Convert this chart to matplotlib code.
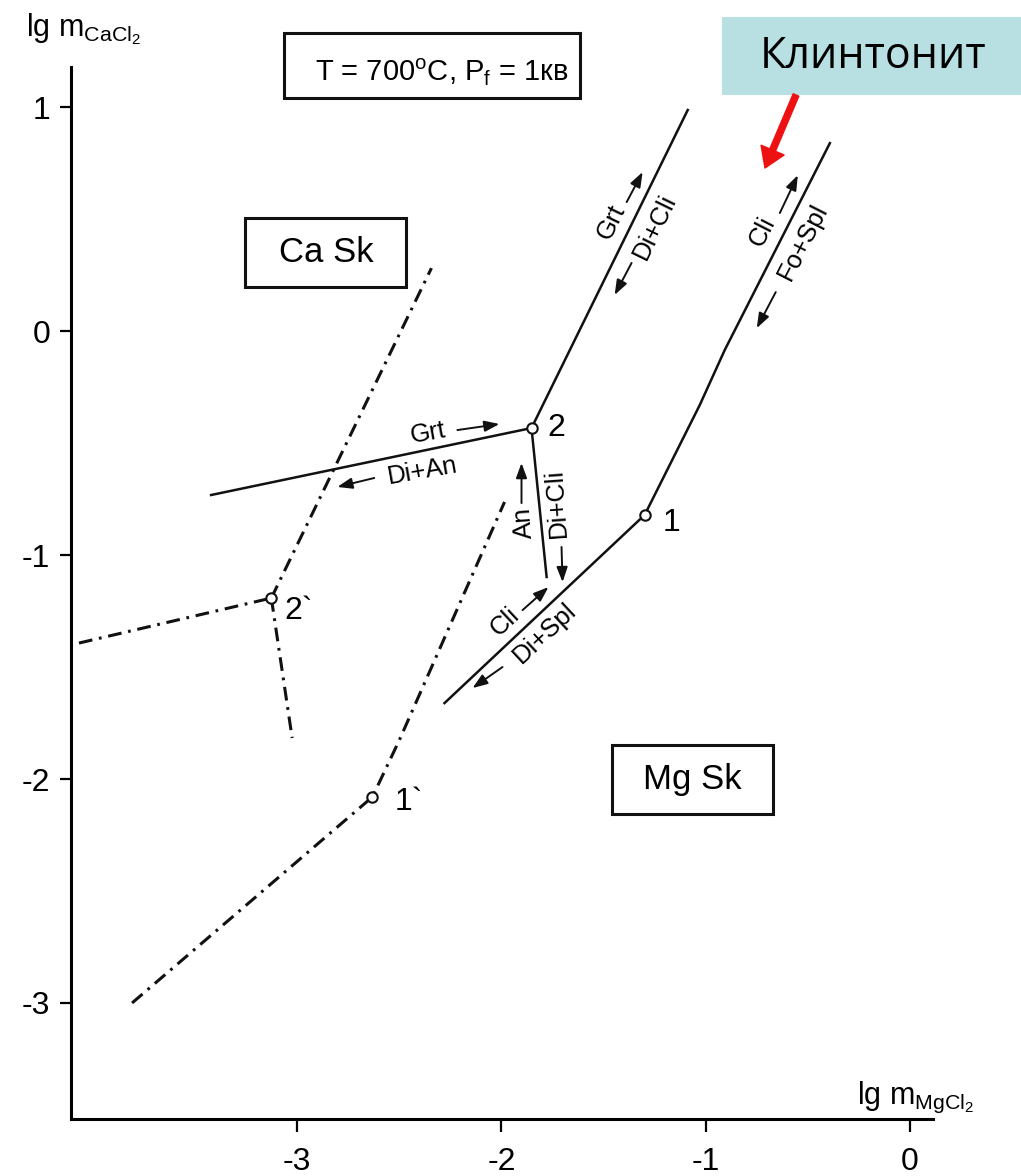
import matplotlib
matplotlib.use('Agg')
import matplotlib.pyplot as plt
from matplotlib import font_manager
from matplotlib.patches import Rectangle, FancyArrowPatch

names = {f.name for f in font_manager.fontManager.ttflist}
FONT = 'Liberation Sans Narrow' if 'Liberation Sans Narrow' in names else 'Liberation Sans'
plt.rcParams['font.family'] = [FONT, 'DejaVu Sans']
plt.rcParams['mathtext.fontset'] = 'custom'
plt.rcParams['mathtext.rm'] = FONT
plt.rcParams['mathtext.it'] = FONT
plt.rcParams['mathtext.default'] = 'rm'
plt.rcParams['axes.unicode_minus'] = False

# stable reaction lines, x = lg m(MgCl2), y = lg m(CaCl2)
grt_dicli_x = [-1.853, -1.088]
grt_dicli_y = [-0.433, 0.987]
grt_dian_x = [-3.422, -1.853]
grt_dian_y = [-0.732, -0.433]
an_dicli_x = [-1.853, -1.779]
an_dicli_y = [-0.433, -1.098]
cli_displ_x = [-2.279, -1.299]
cli_displ_y = [-1.661, -0.821]
cli_fospl_x = [-1.299, -1.029, -0.907, -0.392]
cli_fospl_y = [-0.821, -0.330, -0.085, 0.839]

# metastable (dash-dot) lines
meta_a_x = [-3.127, -2.343]
meta_a_y = [-1.192, 0.281]
meta_b_x = [-4.069, -3.127]
meta_b_y = [-1.393, -1.192]
meta_c_x = [-3.127, -3.025]
meta_c_y = [-1.192, -1.817]
meta_d_x = [-3.809, -2.632, -2.5, -1.985]
meta_d_y = [-3.0, -2.080, -1.826, -0.763]

# invariant points
inv_x = [-1.853, -1.299, -3.127, -2.632]
inv_y = [-0.433, -0.821, -1.192, -2.080]
inv_names = ['2', '1', '2`', '1`']
inv_offsets = [(18, 0), (19, -6), (20, -9), (26, -4)]

xticks = [-3, -2, -1, 0]
yticks = [1, 0, -1, -2, -3]

# phase labels along lines: text, x, y, angle
phase_labels = [
    ('Grt', -2.358, -0.455, 10), ('Di+An', -2.387, -0.625, 10),
    ('Grt', -1.461, 0.487, 64), ('Di+Cli', -1.250, 0.464, 64),
    ('Cli', -0.721, 0.446, 63), ('Fo+Spl', -0.525, 0.397, 63),
    ('An', -1.892, -0.857, 94), ('Di+Cli', -1.730, -0.768, 94),
    ('Cli', -1.985, -1.299, 43), ('Di+Spl', -1.789, -1.348, 43),
]
# small arrows: tail x, tail y, tip x, tip y
phase_arrows = [
    (-2.216, -0.442, -2.010, -0.415), (-2.623, -0.656, -2.804, -0.696),
    (-1.387, 0.576, -1.309, 0.710), (-1.363, 0.304, -1.446, 0.161),
    (-0.637, 0.527, -0.549, 0.696), (-0.657, 0.174, -0.750, 0.013),
    (-1.902, -0.768, -1.902, -0.589), (-1.706, -0.964, -1.701, -1.121),
    (-1.897, -1.246, -1.770, -1.143), (-1.995, -1.500, -2.142, -1.594),
]

W, H = 1021, 1176
fig = plt.figure(figsize=(W / 100, H / 100), dpi=100)
ax = fig.add_axes([71 / W, 1 - 1119 / H, (933 - 71) / W, (1119 - 67) / H])
ax.set_xlim(-4.108, 0.113)
ax.set_ylim(-3.518, 1.179)
for s in ['top', 'right']:
    ax.spines[s].set_visible(False)
for s in ['left', 'bottom']:
    ax.spines[s].set_linewidth(2.2)
ax.set_xticks(xticks)
ax.set_yticks(yticks)
ax.set_xticklabels([str(t) for t in xticks])
ax.set_yticklabels([str(t) for t in yticks])
ax.tick_params(axis='x', direction='out', length=9.5, width=1.6, pad=11, labelsize=23)
ax.tick_params(axis='y', direction='out', length=8, width=1.6, pad=7, labelsize=23)

solid = dict(color='#111111', lw=1.8)
for xs, ys in [(grt_dicli_x, grt_dicli_y), (grt_dian_x, grt_dian_y),
               (an_dicli_x, an_dicli_y), (cli_displ_x, cli_displ_y),
               (cli_fospl_x, cli_fospl_y)]:
    ax.plot(xs, ys, **solid)

dd = dict(color='#111111', lw=2.2, linestyle=(0, (4.5, 2.2, 0.9, 2.2)))
for xs, ys in [(meta_a_x, meta_a_y), (meta_b_x, meta_b_y),
               (meta_c_x, meta_c_y), (meta_d_x, meta_d_y)]:
    ax.plot(xs, ys, **dd)

ax.plot(inv_x, inv_y, 'o', ms=7.5, mfc='white', mec='#111111', mew=1.5, zorder=5)
for x, y, n, off in zip(inv_x, inv_y, inv_names, inv_offsets):
    ax.annotate(n, (x, y), xytext=off, textcoords='offset points',
                ha='center', va='center', fontsize=23)

for s, x, y, a in phase_labels:
    ax.text(x, y, s, rotation=a, rotation_mode='anchor', ha='center', va='center',
            fontsize=18.5)
for x0, y0, x1, y1 in phase_arrows:
    ax.annotate('', xy=(x1, y1), xytext=(x0, y0),
                arrowprops=dict(arrowstyle='-|>,head_length=0.6,head_width=0.22',
                                color='#111111', lw=1.4, shrinkA=0, shrinkB=0,
                                mutation_scale=15))


def fbox(x0, y0, x1, y1, **kw):
    fig.add_artist(Rectangle((x0 / W, 1 - y1 / H), (x1 - x0) / W, (y1 - y0) / H,
                             transform=fig.transFigure, **kw))


def ftext(x, y, s, **kw):
    fig.text(x / W, 1 - y / H, s, **kw)


fbox(284, 33, 580, 98, fill=False, ec='#111111', lw=2.2)
ftext(442, 72, r'T = 700$^{\rm o}$C, P$_{\rm f}$ = 1кв', ha='center', va='center', fontsize=21)
fbox(245, 218, 406, 287, fill=False, ec='#111111', lw=2.2)
ftext(326, 253, 'Ca Sk', ha='center', va='center', fontsize=25)
fbox(612, 745, 773, 814, fill=False, ec='#111111', lw=2.2)
ftext(692, 780, 'Mg Sk', ha='center', va='center', fontsize=25)

ftext(26, 36, r'lg m$_{\rm CaCl_2}$', ha='left', va='baseline', fontsize=22)
ftext(857, 1104, r'lg m$_{\rm MgCl_2}$', ha='left', va='baseline', fontsize=22)

fbox(722, 17, 1030, 95, fill=True, fc='#b8dfe2', ec='none')
ftext(873, 57, 'Клинтонит', ha='center', va='center', fontsize=31,
      family=['Open Sans', 'DejaVu Sans'])
fig.add_artist(FancyArrowPatch((796 / W, 1 - 95 / H), (765 / W, 1 - 168 / H),
                               transform=fig.transFigure, shrinkA=0, shrinkB=0,
                               arrowstyle='simple,head_length=0.7,head_width=0.9,tail_width=0.22',
                               mutation_scale=20, color='#ee1111'))

fig.savefig('out.png', dpi=100)
